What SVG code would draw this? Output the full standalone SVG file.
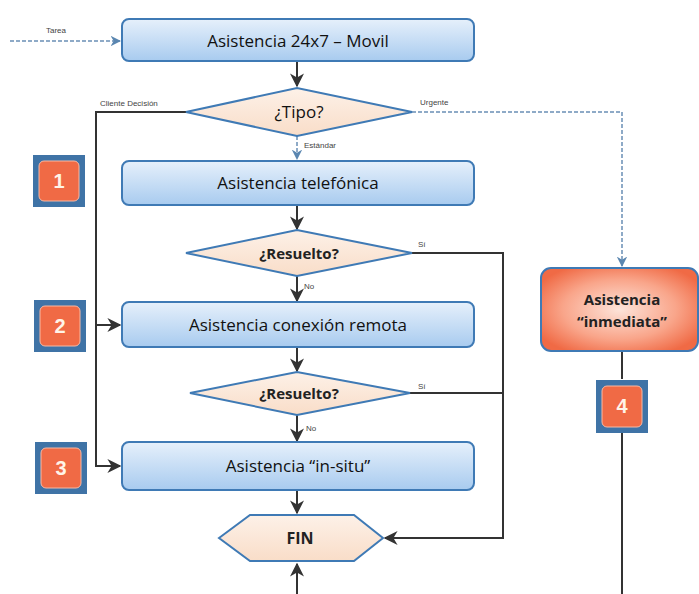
<svg xmlns="http://www.w3.org/2000/svg" width="699" height="594" viewBox="0 0 699 594">
<defs>
<linearGradient id="gBlue" x1="0" y1="0" x2="0" y2="1">
<stop offset="0" stop-color="#e6f0fb"/><stop offset="1" stop-color="#a8cbef"/>
</linearGradient>
<linearGradient id="gPeach" x1="0" y1="0" x2="0" y2="1">
<stop offset="0" stop-color="#fdf1e8"/><stop offset="1" stop-color="#f9ddc8"/>
</linearGradient>
<radialGradient id="gOrange" cx="0.5" cy="0.5" r="0.6">
<stop offset="0" stop-color="#fde4da"/><stop offset="0.6" stop-color="#f9a58a"/><stop offset="1" stop-color="#f06a45"/>
</radialGradient>
<marker id="arr" viewBox="0 0 10 10" refX="9" refY="5" markerWidth="7" markerHeight="7" orient="auto">
<path d="M0,0 L10,5 L0,10 L3,5 z" fill="#333"/>
</marker>
<marker id="arrB" viewBox="0 0 10 10" refX="9" refY="5" markerWidth="7" markerHeight="7" orient="auto">
<path d="M0,0 L10,5 L0,10 L3,5 z" fill="#5a86b0"/>
</marker>
</defs>
<style>
.box{fill:url(#gBlue);stroke:#3f7ab5;stroke-width:2}
.dia{fill:url(#gPeach);stroke:#3f7ab5;stroke-width:2}
.t{font-family:"Open Sans","Liberation Sans",sans-serif;font-size:17px;fill:#111;text-anchor:middle}
.tb{font-family:"Open Sans","Liberation Sans",sans-serif;font-size:15px;font-weight:bold;fill:#222;text-anchor:middle}
.lbl{font-family:"Liberation Sans",sans-serif;font-size:8px;fill:#444}
.c{fill:none;stroke:#333;stroke-width:2}
.cb{fill:none;stroke:#6a8fb5;stroke-width:1.5;stroke-dasharray:4 2}
.bo{fill:#3f73a6}
.bi{fill:#f06a45;stroke:#f9b9a3;stroke-width:1}
.bn{font-family:"Liberation Sans",sans-serif;font-size:20px;font-weight:bold;fill:#fff4e8;text-anchor:middle}
</style>

<g id="connectors">
<line class="cb" x1="10" y1="41" x2="120" y2="41" marker-end="url(#arrB)"/>
<line class="c" x1="297" y1="61" x2="297" y2="86" marker-end="url(#arr)"/>
<polyline class="c" points="186,112 96,112 96,466 120,466" marker-end="url(#arr)"/>
<line class="c" x1="96" y1="325" x2="120" y2="325" marker-end="url(#arr)"/>
<polyline class="cb" points="412,112 622,112 622,266" marker-end="url(#arrB)"/>
<line class="cb" x1="297" y1="136" x2="297" y2="159" marker-end="url(#arrB)"/>
<line class="c" x1="297" y1="205" x2="297" y2="229" marker-end="url(#arr)"/>
<polyline class="c" points="412,253 503,253 503,538 385,538" marker-end="url(#arr)"/>
<line class="c" x1="297" y1="276" x2="297" y2="301" marker-end="url(#arr)"/>
<line class="c" x1="297" y1="347" x2="297" y2="371" marker-end="url(#arr)"/>
<line class="c" x1="410" y1="393" x2="503" y2="393"/>
<line class="c" x1="297" y1="415" x2="297" y2="441" marker-end="url(#arr)"/>
<line class="c" x1="297" y1="490" x2="297" y2="513" marker-end="url(#arr)"/>
<line class="c" x1="297" y1="594" x2="297" y2="564" marker-end="url(#arr)"/>
<line class="c" x1="622" y1="352" x2="622" y2="379"/>
<line class="c" x1="622" y1="433" x2="622" y2="594"/>
<text class="lbl" x="46" y="33">Tarea</text>
<text class="lbl" x="100" y="106">Cliente Decisión</text>
<text class="lbl" x="420" y="105">Urgente</text>
<text class="lbl" x="304" y="148">Estándar</text>
<text class="lbl" x="418" y="247">Sí</text>
<text class="lbl" x="304" y="289">No</text>
<text class="lbl" x="418" y="389">Sí</text>
<text class="lbl" x="306" y="431">No</text>
</g>

<g id="n-movil">
<rect class="box" x="122" y="19" width="352" height="42" rx="7"/>
<text class="t" x="298" y="47">Asistencia 24x7 – Movil</text>
</g>
<g id="n-tipo">
<polygon class="dia" points="186,112 297,88 412,112 297,136"/>
<text class="t" x="299" y="118">¿Tipo?</text>
</g>
<g id="n-telefonica">
<rect class="box" x="122" y="161" width="352" height="44" rx="7"/>
<text class="t" x="298" y="189">Asistencia telefónica</text>
</g>
<g id="n-resuelto1">
<polygon class="dia" points="186,253 297,230 412,253 297,276"/>
<text class="tb" x="299" y="259">¿Resuelto?</text>
</g>
<g id="n-remota">
<rect class="box" x="122" y="302" width="352" height="45" rx="7"/>
<text class="t" x="298" y="331">Asistencia conexión remota</text>
</g>
<g id="n-resuelto2">
<polygon class="dia" points="190,393 297,372 410,393 297,415"/>
<text class="tb" x="299" y="399">¿Resuelto?</text>
</g>
<g id="n-insitu">
<rect class="box" x="122" y="442" width="352" height="48" rx="7"/>
<text class="t" x="298" y="472">Asistencia “in-situ”</text>
</g>
<g id="n-fin">
<polygon class="dia" points="219,538 250,515 354,515 383,538 354,561 250,561"/>
<text class="tb" x="300" y="544" style="font-size:16px">FIN</text>
</g>
<g id="n-inmediata">
<rect x="541" y="268" width="157" height="83" rx="10" fill="url(#gOrange)" stroke="#3f7ab5" stroke-width="2"/>
<text class="tb" x="622" y="305">Asistencia</text>
<text class="tb" x="622" y="327">“inmediata”</text>
</g>
<g id="b1">
<rect class="bo" x="33" y="155" width="52" height="52"/>
<rect class="bi" x="39" y="161" width="40" height="40" rx="5"/>
<text class="bn" x="59" y="188">1</text>
</g>
<g id="b2">
<rect class="bo" x="34" y="300" width="52" height="52"/>
<rect class="bi" x="40" y="306" width="40" height="40" rx="5"/>
<text class="bn" x="60" y="333">2</text>
</g>
<g id="b3">
<rect class="bo" x="35" y="442" width="52" height="52"/>
<rect class="bi" x="41" y="448" width="40" height="40" rx="5"/>
<text class="bn" x="61" y="475">3</text>
</g>
<g id="b4">
<rect class="bo" x="596" y="380" width="52" height="53"/>
<rect class="bi" x="602" y="386" width="40" height="41" rx="5"/>
<text class="bn" x="622" y="413">4</text>
</g>
</svg>
